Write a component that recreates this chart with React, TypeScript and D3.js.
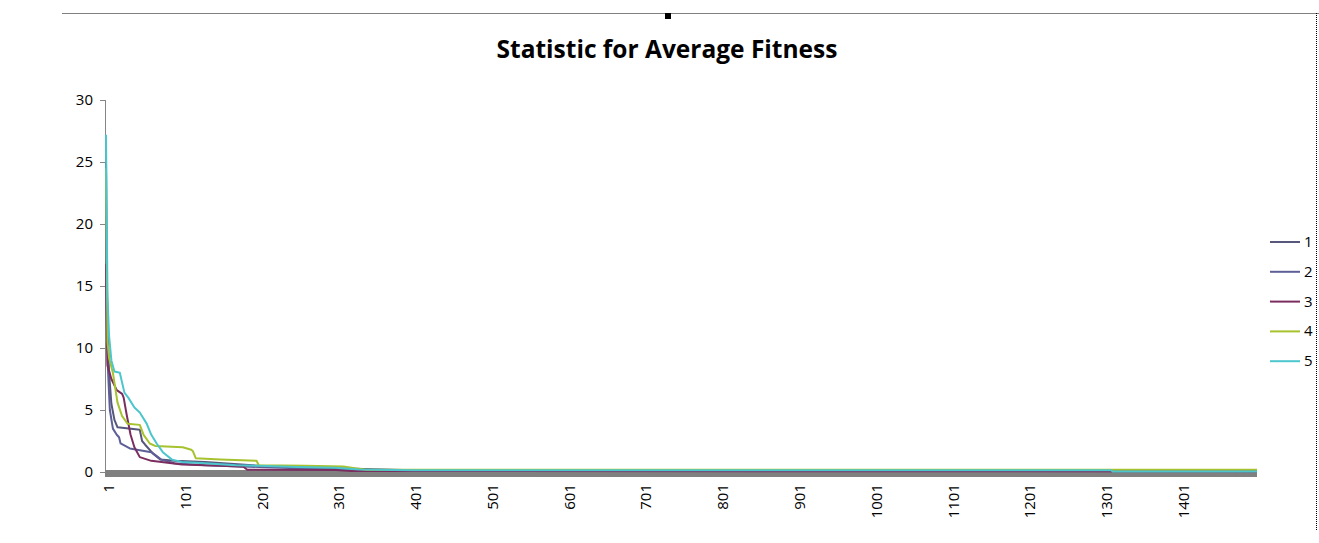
import React from "react";
import * as d3 from "d3";

const title = "Statistic for Average Fitness";
const seriesNames = ["1", "2", "3", "4", "5"];
const seriesColors = ["#56577a", "#5d5f96", "#7b2d60", "#a6c22e", "#4cc6cc"];
const yTicks = [0, 5, 10, 15, 20, 25, 30];
const xTickLabels = [1, 101, 201, 301, 401, 501, 601, 701, 801, 901, 1001, 1101, 1201, 1301, 1401];
const generationCount = 1500;

// [generation, average fitness] breakpoints
const series1: [number, number][] = [
  [1, 25], [2, 16], [3, 12], [5, 8], [8, 5.5], [12, 4.2], [16, 3.6], [45, 3.4], [48, 2.5], [52, 2.2],
  [62, 1.5], [72, 1.0], [90, 0.9], [130, 0.8], [200, 0.5], [300, 0.3], [400, 0.15], [1500, 0.1],
];
const series2: [number, number][] = [
  [1, 21.7], [2, 13], [3, 9], [6, 5], [10, 3.5], [15, 3.0], [18, 2.8], [20, 2.3], [32, 1.9], [60, 1.6],
  [73, 1.0], [90, 0.7], [130, 0.55], [200, 0.4], [300, 0.2], [400, 0.12], [1500, 0.1],
];
const series3: [number, number][] = [
  [1, 16.8], [2, 12], [3, 8.6], [8, 7.5], [15, 6.6], [22, 6.3], [24, 6.0], [28, 4.6], [33, 3.0], [38, 2.0], [45, 1.2],
  [60, 0.9], [100, 0.6], [150, 0.5], [180, 0.42], [185, 0.18], [300, 0.16], [320, 0.08], [1500, 0.05],
];
const series4: [number, number][] = [
  [1, 24.5], [2, 17], [3, 10.5], [5, 9.2], [10, 8], [16, 5.6], [22, 4.5], [29, 3.9], [45, 3.8], [50, 3.0],
  [58, 2.3], [65, 2.1], [101, 2.0], [112, 1.8], [114, 1.7], [118, 1.1], [150, 1.0], [197, 0.9], [200, 0.55],
  [260, 0.5], [310, 0.45], [325, 0.3], [340, 0.18], [1500, 0.18],
];
const series5: [number, number][] = [
  [1, 27.2], [2, 20], [3, 14], [5, 11], [8, 9], [12, 8.1], [19, 8.0], [25, 6.4], [30, 6.0], [38, 5.2],
  [45, 4.8], [54, 3.9], [60, 3.0], [67, 2.3], [75, 1.6], [87, 1.0], [100, 0.8], [130, 0.7], [170, 0.55],
  [200, 0.5], [250, 0.4], [300, 0.35], [330, 0.2], [400, 0.15], [1310, 0.15], [1312, 0.04], [1500, 0.04],
];
const allSeries = [series1, series2, series3, series4, series5];

export default function App() {
  const W = 1319, H = 543;
  const x = d3.scaleLinear().domain([1, generationCount]).range([106, 1257]);
  const y = d3.scaleLinear().domain([0, 30]).range([472, 100]);
  const line = d3.line<[number, number]>().x((d) => x(d[0])).y((d) => y(d[1])).curve(d3.curveLinear);
  const font = "'Open Sans', sans-serif";

  return (
    <svg width={W} height={H} style={{ position: "absolute", left: 0, top: 0, background: "#fff" }}>
      <rect x={0} y={0} width={W} height={H} fill="#fff" />
      {/* top frame line and handle */}
      <line x1={62} x2={1319} y1={13.5} y2={13.5} stroke="#808080" strokeWidth={1} />
      <rect x={665} y={13} width={6} height={6} fill="#000" />
      <line x1={1316.5} x2={1316.5} y1={13} y2={530} stroke="#000" strokeWidth={1} strokeDasharray="1,1" />

      <text x={667} y={58} textAnchor="middle" fontFamily={font} fontWeight="bold" fontSize={24.5} fill="#000">
        {title}
      </text>

      {/* y axis */}
      <line x1={105.5} x2={105.5} y1={y(30)} y2={y(0)} stroke="#868686" />
      {yTicks.map((t) => (
        <g key={t}>
          <line x1={100} x2={105.5} y1={Math.round(y(t)) + 0.5} y2={Math.round(y(t)) + 0.5} stroke="#868686" />
          <text x={93} y={y(t) + 5} textAnchor="end" fontFamily={font} fontSize={15} fill="#000">
            {t}
          </text>
        </g>
      ))}

      {/* x axis (thick grey band) */}
      <line x1={x(1) - 1} x2={x(generationCount)} y1={y(0) + 1.5} y2={y(0) + 1.5} stroke="#808080" strokeWidth={7} />
      {xTickLabels.map((t) => (
        <text
          key={t}
          transform={`translate(${x(t) + 8},${484}) rotate(-90)`}
          textAnchor="end"
          fontFamily={font}
          fontSize={15}
          fill="#000"
        >
          {t}
        </text>
      ))}

      {/* series */}
      {allSeries.map((s, i) => (
        <path key={i} d={line(s) ?? ""} fill="none" stroke={seriesColors[i]} strokeWidth={2} strokeLinejoin="round" />
      ))}

      {/* legend */}
      {seriesNames.map((n, i) => (
        <g key={n}>
          <line x1={1270} x2={1300} y1={242 + i * 29.8} y2={242 + i * 29.8} stroke={seriesColors[i]} strokeWidth={2} />
          <text x={1304} y={247 + i * 29.8} fontFamily={font} fontSize={15} fill="#000">
            {n}
          </text>
        </g>
      ))}
    </svg>
  );
}
